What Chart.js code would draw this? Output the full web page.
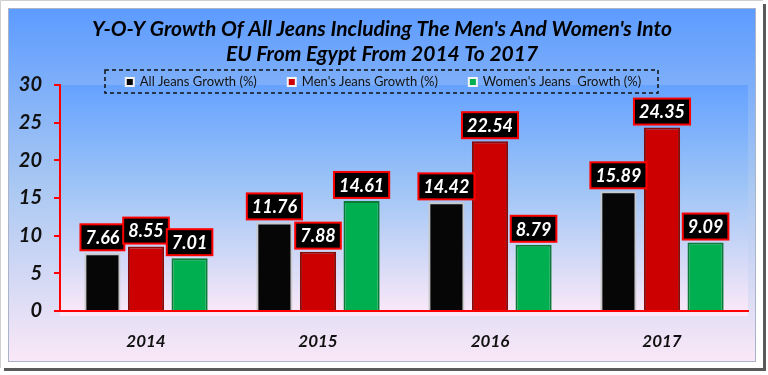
<!DOCTYPE html>
<html>
<head>
<meta charset="utf-8">
<script src="https://cdn.jsdelivr.net/npm/chart.js@4.4.0/dist/chart.umd.min.js"></script>
<style>
html, body { margin: 0; padding: 0; background: #fff; }
#wrap { width: 768px; height: 375px; }
</style>
</head>
<body>
<div id="wrap"><canvas id="myChart" width="768" height="375"></canvas></div>
<script>
// chart data
const years = ['2014', '2015', '2016', '2017'];
const allJeans = [7.66, 11.76, 14.42, 15.89];
const mensJeans = [8.55, 7.88, 22.54, 24.35];
const womensJeans = [7.01, 14.61, 8.79, 9.09];
const seriesNames = ['All Jeans Growth (%)', "Men's Jeans Growth (%)", "Women's Jeans  Growth (%)"];
const titleLines = ["Y-O-Y Growth Of All Jeans Including The Men's And Women's Into", "EU From Egypt From 2014 To 2017"];

const narrow = "Lato, 'Open Sans', sans-serif";

// frame, panel and plot backgrounds
const backdrop = {
  id: 'backdrop',
  beforeDraw: function (chart) {
    const ctx = chart.ctx;
    const W = chart.width, H = chart.height;
    const a = chart.chartArea;
    ctx.save();
    ctx.fillStyle = '#ffffff';
    ctx.fillRect(0, 0, W, H);
    // shadow right / bottom
    ctx.fillStyle = '#5a5a5a';
    ctx.fillRect(763, 4, 3, 367);
    ctx.fillRect(4, 368, 762, 3);
    ctx.fillStyle = '#ffffff';
    ctx.fillRect(0, 0, 763, 368);
    ctx.strokeStyle = '#cfcfcf';
    ctx.lineWidth = 1;
    ctx.beginPath();
    ctx.moveTo(0.5, 368); ctx.lineTo(0.5, 0.5); ctx.lineTo(763, 0.5);
    ctx.stroke();
    // panel
    var g = ctx.createLinearGradient(0, 8, 0, 362);
    g.addColorStop(0, '#5c9bff');
    g.addColorStop(0.5, '#a9c8f2');
    g.addColorStop(1, '#fae8f7');
    ctx.fillStyle = g;
    ctx.fillRect(8, 8, 748, 354);
    ctx.strokeStyle = '#a9b4c8';
    ctx.strokeRect(8.5, 8.5, 747, 353);
    // plot area
    var p = ctx.createLinearGradient(0, a.top, 0, a.bottom + 5);
    p.addColorStop(0, '#65a2ff');
    p.addColorStop(0.45, '#9fc5f6');
    p.addColorStop(1, '#fde9f8');
    ctx.fillStyle = p;
    ctx.fillRect(a.left, a.top, a.right - a.left, a.bottom - a.top + 5);
    ctx.restore();
  }
};

// title, legend and value boxes
const decorations = {
  id: 'decorations',
  afterDatasetsDraw: function (chart) {
    const ctx = chart.ctx;
    ctx.save();
    ctx.font = 'italic bold 18px ' + narrow;
    ctx.textAlign = 'center';
    ctx.textBaseline = 'middle';
    chart.data.datasets.forEach(function (ds, i) {
      chart.getDatasetMeta(i).data.forEach(function (bar, j) {
        var txt = ds.data[j].toFixed(2);
        var w = ctx.measureText(txt).width + 10;
        var h = 26;
        var x = bar.x - w / 2, y = bar.y - h - 3;
        ctx.fillStyle = '#000';
        ctx.fillRect(x, y, w, h);
        ctx.strokeStyle = '#ff0000';
        ctx.lineWidth = 2;
        ctx.strokeRect(x, y, w, h);
        ctx.fillStyle = '#fff';
        ctx.fillText(txt, bar.x, y + h / 2 + 1);
      });
    });
    ctx.restore();
  },
  afterDraw: function (chart) {
    const ctx = chart.ctx;
    ctx.save();
    ctx.fillStyle = '#000';
    ctx.textAlign = 'center';
    ctx.textBaseline = 'middle';
    ctx.font = 'italic bold 21px ' + narrow;
    ctx.fillText(titleLines[0], 382, 29);
    ctx.fillText(titleLines[1], 382, 54);

    // legend
    ctx.setLineDash([4, 3]);
    ctx.lineWidth = 1.5;
    ctx.strokeStyle = '#111';
    ctx.strokeRect(105, 70, 553, 23);
    ctx.setLineDash([]);
    ctx.font = '13px ' + narrow;
    ctx.textAlign = 'left';
    var gap = 30, mk = 10;
    var widths = seriesNames.map(function (n) { return mk + 5 + ctx.measureText(n).width; });
    var total = widths.reduce(function (s, v) { return s + v; }, 0) + gap * (widths.length - 1);
    var x = 383 - total / 2;
    chart.data.datasets.forEach(function (ds, i) {
      ctx.fillStyle = '#f4f4f4';
      ctx.fillRect(x, 77, mk, mk);
      ctx.fillStyle = ds.backgroundColor;
      ctx.fillRect(x + 2, 79, mk - 4, mk - 4);
      ctx.fillStyle = '#111';
      ctx.fillText(seriesNames[i], x + mk + 5, 82);
      x += widths[i] + gap;
    });
    ctx.restore();
  }
};

const ctx = document.getElementById('myChart');
new Chart(ctx, {
  type: 'bar',
  data: {
    labels: years,
    datasets: [
      { label: seriesNames[0], data: allJeans, backgroundColor: '#060606', borderColor: '#c9c9c9', borderWidth: 2 },
      { label: seriesNames[1], data: mensJeans, backgroundColor: '#cc0000', borderColor: '#8a0a0a', borderWidth: 2 },
      { label: seriesNames[2], data: womensJeans, backgroundColor: '#00b050', borderColor: '#0a7a35', borderWidth: 2 }
    ]
  },
  options: {
    responsive: false,
    animation: false,
    layout: { padding: { left: 8, right: 20, top: 85, bottom: 0 } },
    datasets: { bar: { barPercentage: 0.83, categoryPercentage: 0.76 } },
    plugins: {
      legend: { display: false },
      title: { display: false },
      tooltip: { enabled: false }
    },
    scales: {
      x: {
        grid: { display: false, drawTicks: false },
        border: { display: true, color: '#ff0000', width: 2 },
        ticks: { color: '#111', padding: 20, font: { family: narrow, size: 17, style: 'italic', weight: 'bold' } },
        afterFit: function (s) { s.height = 64; }
      },
      y: {
        min: 0,
        max: 30,
        ticks: { stepSize: 5, color: '#111', padding: 12, font: { family: narrow, size: 20, style: 'italic', weight: 'bold' } },
        grid: { display: true, drawOnChartArea: false, drawTicks: true, tickLength: 6, color: '#ff0000', lineWidth: 2 },
        border: { display: true, color: '#ff0000', width: 2 },
        afterFit: function (s) { s.width = 52; }
      }
    }
  },
  plugins: [backdrop, decorations]
});
</script>
</body>
</html>
